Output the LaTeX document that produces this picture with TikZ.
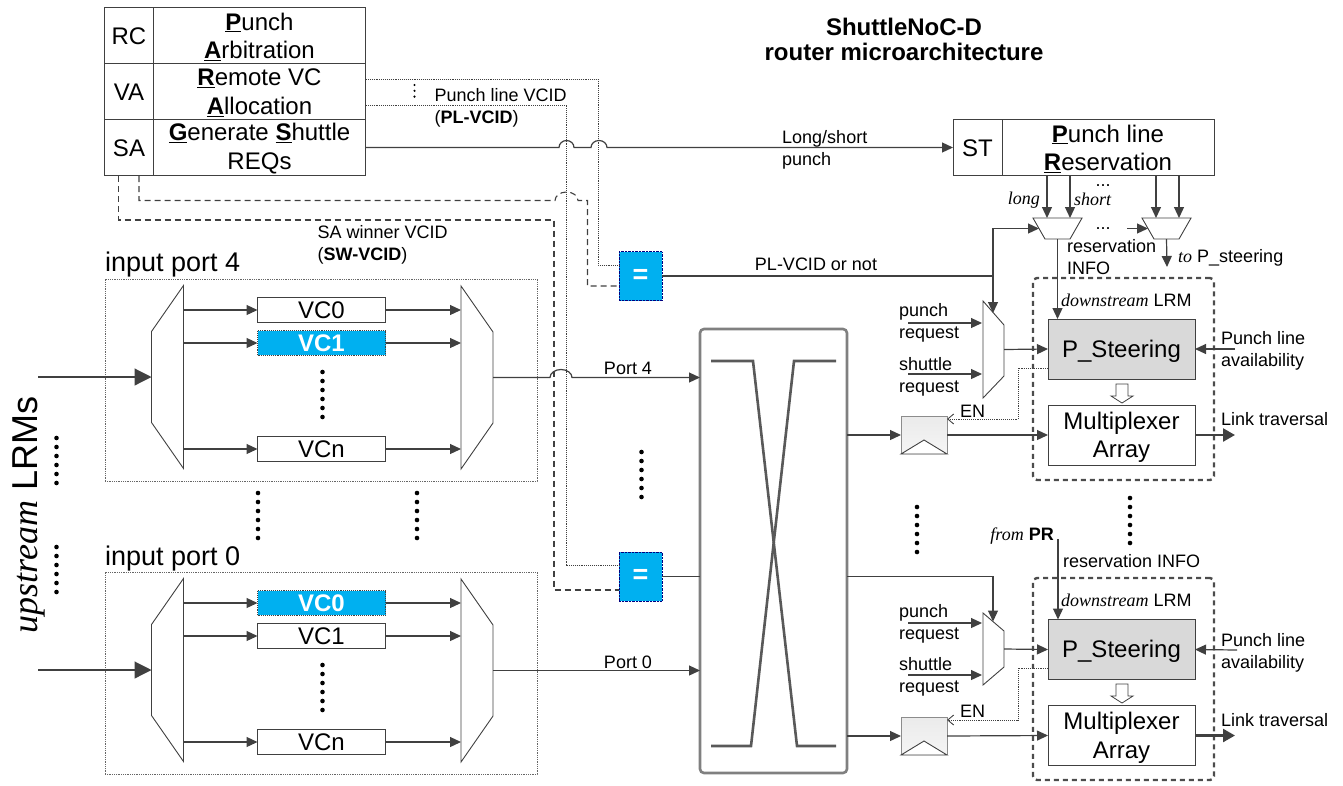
\documentclass[tikz,border=0pt]{standalone}
\usepackage{fontspec}
\setmainfont{Liberation Sans}
\newfontfamily\timesfont{Liberation Serif}
\usetikzlibrary{arrows.meta}
\definecolor{wirecol}{HTML}{404040}
\definecolor{eqblue}{HTML}{00B0F0}
\newcommand{\ital}[1]{{\timesfont\itshape #1}}
\newcommand{\ul}[1]{\underline{\textbf{#1}}}
\tikzset{
    lab/.style={font=\fontsize{18}{22}\selectfont,inner sep=0,align=left},
    bigtxt/.style={font=\fontsize{24}{28.5}\selectfont,align=center,inner sep=0},
    lowtxt/.style={execute at begin node={\rule{0pt}{#1}}},
    cell/.style={bigtxt,draw=wirecol,line width=0.9pt,inner sep=0,outer sep=0},
    vcbox/.style={cell,minimum width=128,minimum height=24.5},
    vchot/.style={vcbox,fill=eqblue,densely dotted,text=white,font=\fontsize{24}{28.5}\selectfont\bfseries},
    psbox/.style={cell,fill=black!15,lowtxt=21pt,minimum width=147,minimum height=60},
    mxbox/.style={cell,minimum width=147,minimum height=60},
    eqbox/.style={draw=blue!50!black,densely dotted,fill=eqblue,text=white,inner sep=0,outer sep=0,minimum width=43,minimum height=49,font=\fontsize{27}{27}\selectfont\bfseries},
    portbox/.style={draw=black!60,densely dotted,line width=0.8pt,inner sep=0,minimum width=432,minimum height=202},
    lrmbox/.style={draw=black!70,line width=2.4pt,dash pattern=on 5pt off 4pt,rounded corners=4,inner sep=0,minimum width=181,minimum height=202},
    xbarbox/.style={draw=black!50,line width=2.6pt,rounded corners=4,inner sep=0,outer sep=0,minimum width=147,minimum height=444},
    hide/.style={inner sep=0,outer sep=0},
    regbox/.style={hide,minimum width=46,minimum height=38,top color=black!8,middle color=white,bottom color=black!4},
    hollow/.style={draw=wirecol,fill=white,line width=0.8pt},
    muxline/.style={draw=wirecol,line width=0.9pt},
    wire/.style={draw=wirecol,line width=1.2pt},
    arr/.style={wire,-{Triangle[length=11pt,width=10pt]}},
    bigarr/.style={wire,-{Triangle[length=17pt,width=17pt]}},
    thickarr/.style={draw=wirecol,line width=2.4pt,-{Triangle[length=12pt,width=13pt]}},
    dotline/.style={draw=wirecol,line width=0.9pt,densely dotted},
    dashline/.style={draw=wirecol,line width=1.1pt,dash pattern=on 6pt off 4pt},
    dotcol/.style={line width=4.6pt,line cap=round,dash pattern=on 0pt off 9pt},
    tinydots/.style={line width=2.4pt,line cap=round,dash pattern=on 0pt off 5.8pt},
    xline/.style={draw=black!65,line width=2.6pt},
}
\begin{document}
\begin{tikzpicture}[x=1pt,y=-1pt]
    \useasboundingbox (0,0) rectangle (1343,785);

    \node[font=\fontsize{24}{25}\selectfont\bfseries,align=center,inner sep=0] (title) at (904,39) {ShuttleNoC-D\\router microarchitecture};

    \node[cell,lowtxt=18.5pt,minimum width=49,minimum height=56] (rc) at (129,35.5) {RC};
    \node[cell,lowtxt=18.5pt,minimum width=49,minimum height=56] (va) at (129,91.5) {VA};
    \node[cell,lowtxt=18.5pt,minimum width=49,minimum height=56] (sa) at (129,147.5) {SA};
    \node[cell,minimum width=212,minimum height=56] (pa) at (259.5,35.5) {};
    \node[cell,minimum width=212,minimum height=56] (rva) at (259.5,91.5) {};
    \node[cell,minimum width=212,minimum height=56] (gsr) at (259.5,147.5) {};
    \node[bigtxt,yshift=-1.2pt] (tpa) at (pa) {\ul{P}unch\\\ul{A}rbitration};
    \node[bigtxt,yshift=-1.2pt] (trva) at (rva) {\ul{R}emote VC\\\ul{A}llocation};
    \node[bigtxt,yshift=-1.2pt] (tgsr) at (gsr) {\ul{G}enerate \ul{S}huttle\\REQs};

    \node[cell,lowtxt=18.5pt,minimum width=49,minimum height=56] (st) at (977.5,147.5) {ST};
    \node[cell,minimum width=212,minimum height=56] (plr) at (1108,147.5) {};
    \node[bigtxt,yshift=-1.2pt] (tplr) at (plr) {\ul{P}unch line\\\ul{R}eservation};

    \node[lab,anchor=west] (lplv) at (434.5,107.5) {Punch line VCID\\(\textbf{PL-VCID})};
    \node[lab,anchor=west] (lswv) at (317.5,245) {SA winner VCID\\(\textbf{SW-VCID})};
    \node[lab,anchor=west] (lls) at (782,150) {Long/short\\punch};
    \node[lab] (lplor) at (816,264) {PL-VCID or not};
    \draw[tinydots] (414.5,85) -- (414.5,97);

    \node[portbox] (portd) at (321,380) {};
    \node[portbox] (portz) at (321,673) {};
    \node[anchor=west,inner sep=0,font=\fontsize{27}{27}\selectfont] (lportd) at (105,265) {input port 4};
    \node[anchor=west,inner sep=0,font=\fontsize{27}{27}\selectfont] (lportz) at (105,559) {input port 0};

    \node[vcbox] (vcda) at (321.5,310) {VC0};
    \node[vchot] (vcdb) at (321.5,343) {VC1};
    \node[vcbox] (vcdn) at (321.5,449) {VCn};
    \node[vchot] (vcza) at (321.5,603) {VC0};
    \node[vcbox] (vczb) at (321.5,636) {VC1};
    \node[vcbox] (vczn) at (321.5,742) {VCn};

    \node[hide,minimum width=32,minimum height=183] (lmuxd) at (167.5,377) {};
    \node[hide,minimum width=32,minimum height=183] (rmuxd) at (477,377.5) {};
    \node[hide,minimum width=32,minimum height=183] (lmuxz) at (167.5,670) {};
    \node[hide,minimum width=32,minimum height=183] (rmuxz) at (477,670.5) {};
    \draw[muxline] (lmuxd.north east) -- ++(-32,46) -- ++(0,91) -- ++(32,46) -- cycle;
    \draw[muxline] (lmuxz.north east) -- ++(-32,46) -- ++(0,91) -- ++(32,46) -- cycle;
    \draw[muxline] (rmuxd.north west) -- ++(32,46) -- ++(0,91) -- ++(-32,46) -- cycle;
    \draw[muxline] (rmuxz.north west) -- ++(32,46) -- ++(0,91) -- ++(-32,46) -- cycle;

    \draw[arr] (lmuxd.east |- vcda) -- (vcda.west);
    \draw[arr] (lmuxd.east |- vcdb) -- (vcdb.west);
    \draw[arr] (lmuxd.east |- vcdn) -- (vcdn.west);
    \draw[arr] (vcda.east) -- (rmuxd.west |- vcda);
    \draw[arr] (vcdb.east) -- (rmuxd.west |- vcdb);
    \draw[arr] (vcdn.east) -- (rmuxd.west |- vcdn);
    \draw[arr] (lmuxz.east |- vcza) -- (vcza.west);
    \draw[arr] (lmuxz.east |- vczb) -- (vczb.west);
    \draw[arr] (lmuxz.east |- vczn) -- (vczn.west);
    \draw[arr] (vcza.east) -- (rmuxz.west |- vcza);
    \draw[arr] (vczb.east) -- (rmuxz.west |- vczb);
    \draw[arr] (vczn.east) -- (rmuxz.west |- vczn);

    \coordinate (upd) at (38,377);
    \coordinate (upz) at (38,670);
    \draw[bigarr] (upd) -- (lmuxd.west);
    \draw[bigarr] (upz) -- (lmuxz.west);

    \node[anchor=base,rotate=90,inner sep=0,font=\fontsize{36}{36}\selectfont] (lup) at (37.5,515) {\ital{upstream} LRMs};

    \draw[dotcol] (322.5,372) -- (322.5,417.2);
    \draw[dotcol] (322.5,665) -- (322.5,710.2);
    \draw[dotcol] (258,493) -- (258,538.2);
    \draw[dotcol] (417,493) -- (417,538.2);
    \draw[dotcol] (56.5,438) -- (56.5,483.2);
    \draw[dotcol] (56.5,547) -- (56.5,592.2);
    \draw[dotcol] (641.5,452) -- (641.5,497.2);
    \draw[dotcol] (917,507) -- (917,552.2);
    \draw[dotcol] (1130,498) -- (1130,543.2);

    \node[xbarbox] (xbar) at (773.5,551) {};
    \draw[xline] (711,361) -- (753,361) -- (797,746) -- (836,746);
    \draw[xline] (836,361) -- (794,361) -- (751,746) -- (711,746);

    \node[eqbox] (eqd) at (640.5,276) {=};
    \node[eqbox] (eqz) at (640.5,576.5) {=};

    \coordinate (jsa) at (559,147.5);
    \coordinate (jsb) at (591,147.5);
    \draw[arr] (gsr.east) -- (jsa) arc[start angle=180,end angle=360,x radius=7.5,y radius=7] -- (jsb) arc[start angle=180,end angle=360,x radius=8,y radius=7] -- (st.west);

    \coordinate (plta) at (366,79);
    \coordinate (pltb) at (598,79);
    \coordinate (plba) at (366,105);
    \coordinate (plbb) at (566,105);
    \coordinate (eqdup) at (619,265);
    \coordinate (eqzup) at (619,565);
    \draw[dotline] (plta) -- (pltb) |- (eqdup);
    \draw[dotline] (plba) -- (plbb) |- (eqzup);

    \coordinate (swa) at (139,176);
    \coordinate (swb) at (118.5,176);
    \coordinate (jsw) at (555,200.5);
    \coordinate (eqdlo) at (619,286);
    \coordinate (swc) at (554,220);
    \coordinate (eqzlo) at (619,590);
    \draw[dashline] (swa) |- (jsw) arc[start angle=180,end angle=360,x radius=11.5,y radius=8.5] -- ++(9.5,0) |- (eqdlo);
    \draw[dashline] (swb) |- (swc) |- (eqzlo);

    \coordinate (jpd) at (550,377.5);
    \draw[arr] (rmuxd.east) -- (jpd) arc[start angle=180,end angle=360,x radius=11,y radius=8] -- (xbar.west |- jpd);
    \draw[arr] (rmuxz.east) -- (xbar.west |- rmuxz.east);
    \node[lab] (lpd) at (628,368) {Port 4};
    \node[lab] (lpz) at (628,662) {Port 0};

    \node[lrmbox] (lrmd) at (1123.5,379) {};
    \node[lrmbox] (lrmz) at (1123.5,679) {};
    \node[psbox] (psd) at (1121.5,349) {P\_Steering};
    \node[psbox] (psz) at (1121.5,649.5) {P\_Steering};
    \node[mxbox] (mxd) at (1121.5,435) {};
    \node[mxbox] (mxz) at (1121.5,735.5) {};
    \node[bigtxt,yshift=-2.5pt] (tmxd) at (mxd) {Multiplexer\\Array};
    \node[bigtxt,yshift=-2.5pt] (tmxz) at (mxz) {Multiplexer\\Array};
    \coordinate (hold) at (1122,384);
    \coordinate (holz) at (1122,684);
    \draw[hollow] (hold) ++(-6,0) -- ++(12,0) -- ++(0,12) -- ++(5,0) -- ++(-11,7) -- ++(-11,-7) -- ++(5,0) -- cycle;
    \draw[hollow] (holz) ++(-6,0) -- ++(12,0) -- ++(0,12) -- ++(5,0) -- ++(-11,7) -- ++(-11,-7) -- ++(5,0) -- cycle;
    \node[lab,anchor=west] (ldsd) at (1061,300) {\ital{downstream} LRM};
    \node[lab,anchor=west] (ldsz) at (1061,600) {\ital{downstream} LRM};

    \node[hide,minimum width=49,minimum height=21] (tmuxa) at (1057.5,228.5) {};
    \node[hide,minimum width=49,minimum height=21] (tmuxb) at (1166.5,228.5) {};
    \draw[muxline] (tmuxa.north west) -- (tmuxa.north east) -- ++(-12,21) -- ++(-25,0) -- cycle;
    \draw[muxline] (tmuxb.north west) -- (tmuxb.north east) -- ++(-12,21) -- ++(-25,0) -- cycle;
    \coordinate (lga) at (1047,176);
    \coordinate (lgb) at (1070,176);
    \coordinate (lgc) at (1156,176);
    \coordinate (lgd) at (1179,176);
    \draw[arr] (lga) -- (lga |- tmuxa.north);
    \draw[arr] (lgb) -- (lgb |- tmuxa.north);
    \draw[arr] (lgc) -- (lgc |- tmuxb.north);
    \draw[arr] (lgd) -- (lgd |- tmuxb.north);
    \node[lab,anchor=east] (llong) at (1040,200) {\ital{long}};
    \node[lab,anchor=west] (lshort) at (1074,199) {\ital{short}};
    \node[inner sep=0,anchor=base,font=\fontsize{18}{18}\selectfont] (ldta) at (1103,186) {...};
    \node[inner sep=0,anchor=base,font=\fontsize{18}{18}\selectfont] (ldtb) at (1103,229) {...};

    \draw[arr] (tmuxa.south) -- (tmuxa.south |- psd.north);
    \coordinate (tobin) at (1127,228.5);
    \coordinate (tobtip) at (1148,228.5);
    \coordinate (tobout) at (1167,267);
    \draw[arr] (tobin) -- (tobtip);
    \draw[arr] (tmuxb.south) -- (tobout);
    \node[lab,anchor=west] (lres) at (1067,257.5) {reservation\\INFO};
    \node[lab,anchor=west] (lto) at (1178,258) {\ital{to} P\_steering};

    \node[hide,minimum width=21,minimum height=97] (smuxd) at (993.5,349.5) {};
    \node[hide,minimum width=21,minimum height=72] (smuxz) at (993.5,649) {};
    \draw[muxline] (smuxd.north west) -- ++(21,24) -- ++(0,51) -- ++(-21,22) -- cycle;
    \draw[muxline] (smuxz.north west) -- ++(21,18) -- ++(0,36) -- ++(-21,18) -- cycle;

    \coordinate (pljn) at (993,276);
    \coordinate (pltip) at (1039,228.5);
    \coordinate (smdtip) at (993,313);
    \coordinate (smztip) at (993,621.5);
    \draw[wire] (eqd.east) -- (pljn);
    \draw[arr] (pljn) |- (pltip);
    \draw[arr] (pljn) -- (smdtip);
    \draw[wire] (eqz.east) -- (xbar.west |- eqz);
    \draw[arr] (xbar.east |- eqz) -| (smztip);

    \coordinate (pqda) at (908,323);
    \coordinate (pqdb) at (982,323);
    \coordinate (sqda) at (908,374);
    \coordinate (sqdb) at (982,374);
    \coordinate (pqza) at (908,623);
    \coordinate (pqzb) at (982,623);
    \coordinate (sqza) at (908,675);
    \coordinate (sqzb) at (982,675);
    \draw[arr] (pqda) -- (pqdb);
    \draw[arr] (sqda) -- (sqdb);
    \draw[arr] (pqza) -- (pqzb);
    \draw[arr] (sqza) -- (sqzb);
    \node[lab,anchor=west] (lpqd) at (899,323) {punch\\request};
    \node[lab,anchor=west] (lsqd) at (899,377) {shuttle\\request};
    \node[lab,anchor=west] (lpqz) at (899,624) {punch\\request};
    \node[lab,anchor=west] (lsqz) at (899,677) {shuttle\\request};

    \draw[arr] (smuxd.east) -- (psd.west);
    \draw[arr] (smuxz.east) -- (psz.west);

    \node[regbox] (regd) at (924,435) {};
    \node[regbox] (regz) at (924,736) {};
    \draw[draw=black!45,line width=0.7pt] (regd.south west) -- (regd.north west) -- (regd.north east) -- (regd.south east);
    \draw[draw=black!45,line width=0.7pt] (regz.south west) -- (regz.north west) -- (regz.north east) -- (regz.south east);
    \draw[muxline,fill=white] (regd.south west) -- ++(23,-14) -- (regd.south east) -- cycle;
    \draw[muxline,fill=white] (regz.south west) -- ++(23,-14) -- (regz.south east) -- cycle;
    \draw[arr] (xbar.east |- regd) -- (regd.west);
    \draw[arr] (xbar.east |- regz) -- (regz.west);
    \draw[arr] (regd.east) -- (mxd.west);
    \draw[arr] (regz.east) -- (mxz.west);

    \coordinate (enda) at (1048,368);
    \coordinate (endb) at (947,419);
    \coordinate (enza) at (1048,668);
    \coordinate (enzb) at (947,720);
    \draw[dotline,-{Straight Barb[length=6pt,width=10pt]}] (enda) -- ++(-30,0) |- (endb);
    \draw[dotline,-{Straight Barb[length=6pt,width=10pt]}] (enza) -- ++(-30,0) |- (enzb);
    \node[lab,anchor=west] (lend) at (960,411) {EN};
    \node[lab,anchor=west] (lenz) at (960,711) {EN};

    \coordinate (frompr) at (1058,539);
    \draw[arr] (frompr) -- (frompr |- psz.north);
    \node[lab,anchor=east] (lfrom) at (1054,536) {\ital{from} \textbf{PR}};
    \node[lab,anchor=west] (lrinfo) at (1063,561) {reservation INFO};

    \coordinate (avda) at (1235,349);
    \coordinate (avza) at (1237,650);
    \coordinate (lkda) at (1235,435);
    \coordinate (lkza) at (1235,735.5);
    \draw[arr] (avda) -- (psd.east);
    \draw[arr] (avza) -- (psz.east);
    \draw[thickarr] (mxd.east) -- (lkda);
    \draw[thickarr] (mxz.east) -- (lkza);
    \node[lab,anchor=west] (lavd) at (1221,351) {Punch line\\availability};
    \node[lab,anchor=west] (lavz) at (1221,653) {Punch line\\availability};
    \node[lab,anchor=west] (llkd) at (1221,419) {Link traversal};
    \node[lab,anchor=west] (llkz) at (1221,720) {Link traversal};
\end{tikzpicture}
\end{document}
